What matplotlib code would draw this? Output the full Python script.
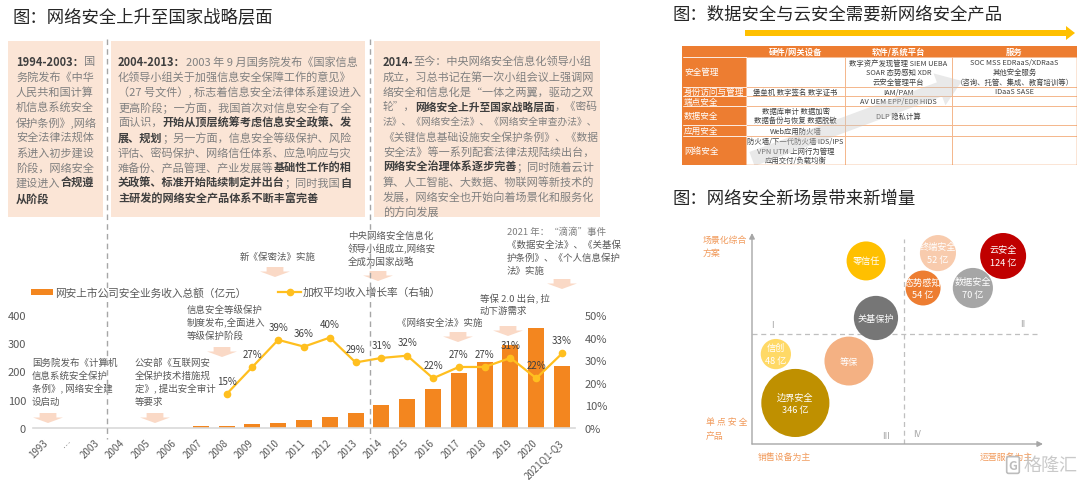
import matplotlib.pyplot as plt
import matplotlib.patches as mpatches
from matplotlib.lines import Line2D
from matplotlib.font_manager import FontProperties
import numpy as np

FAM = ['Noto Sans CJK SC', 'DejaVu Sans']
plt.rcParams['font.family'] = FAM

W, H = 1080, 481
def fx(px): return px / W
def fy(py): return 1 - py / H

# ── data: 网安上市公司安全业务收入 / 增长率 ─────────────────────────────
years = ['1993', '…', '2003'] + [str(y) for y in range(2004, 2021)] + ['2021Q1-Q3']
revenue = [np.nan] * 6 + [6, 8, 14, 19, 27, 38, 52, 81, 104, 138, 195, 232, 294, 353, 220]
growth = [np.nan] * 7 + [15, 27, 39, 36, 40, 29, 31, 32, 22, 27, 27, 31, 22, 33]

# ── data: 产品矩阵表 ─────────────────────────────────────────────────────
table_cols = ['硬件/网关设备', '软件/系统平台', '服务']
table_rows = ['安全管理', '身份访问与管理', '端点安全', '数据安全', '应用安全', '网络安全']
hardware = ['', '堡垒机 数字签名 数字证书', '', '数据库审计 数据加密\n数据备份与恢复 数据脱敏',
            'Web应用防火墙', '防火墙/下一代防火墙 IDS/IPS\nVPN UTM 上网行为管理\n应用交付/负载均衡']
software = ['数字资产发现管理 SIEM UEBA\nSOAR 态势感知 XDR\n云安全管理平台', 'IAM/PAM',
            'AV UEM EPP/EDR HIDS', 'DLP 隐私计算', '', '']
services = ['SOC MSS EDRaaS/XDRaaS\n其他安全服务\n（咨询、托管、集成、教育培训等）', 'IDaaS SASE',
            '', '', '', '']

# ── data: 新场景气泡 ─────────────────────────────────────────────────────
bubble_names = ['零信任', '关基保护', '终端安全', '云安全', '态势感知', '数据安全', '信创', '等保', '边界安全']
bubble_vals = ['', '', '52 亿', '124 亿', '54 亿', '70 亿', '48 亿', '', '346 亿']
bubble_x = [3.92, 4.26, 6.39, 8.63, 5.88, 7.59, 0.82, 3.33, 1.49]
bubble_y = [6.29, 4.33, 6.56, 6.46, 5.36, 5.36, 3.09, 2.85, 1.41]
bubble_r = [0.67, 0.76, 0.62, 0.79, 0.60, 0.69, 0.52, 0.84, 1.17]
bubble_c = ['#FFC000', '#767676', '#F8CBAD', '#C00000', '#ED7D31', '#A6A6A6', '#FFD966', '#F4B183', '#BF9000']

# ── colours ─────────────────────────────────────────────────────────────
TITLE = '#262626'
GRAY = '#808080'
DARK = '#3F3F3F'
NOTE = '#595959'
PEACH = '#FBE5D6'
PINK = '#FAD9C6'
ORANGE = '#F3861F'
GOLD = '#FFBF1F'
TBL_OR = '#ED7D31'
TBL_LINE = '#F4B183'
AXLAB = '#F19A5B'

fig = plt.figure(figsize=(W / 100, H / 100), dpi=100)
fig.patch.set_facecolor('white')
R = fig.canvas.get_renderer()


def poly(pts, color, z=1, alpha=1.0):
    fig.add_artist(mpatches.Polygon([(fx(a), fy(b)) for a, b in pts], closed=True,
                                    transform=fig.transFigure, facecolor=color,
                                    edgecolor='none', zorder=z, alpha=alpha))


def down_arrow(cx, ytop, w=30, h=10):
    s = w * 0.28
    m = ytop + h * 0.45
    poly([(cx - s, ytop), (cx + s, ytop), (cx + s, m), (cx + w / 2, m),
          (cx, ytop + h), (cx - w / 2, m), (cx - s, m)], PINK)


def adv(s, size, bold):
    prop = FontProperties(family=FAM, size=size, weight='bold' if bold else 'normal')
    w1 = R.get_text_width_height_descent(s + '国', prop, ismath=False)[0]
    w2 = R.get_text_width_height_descent('国', prop, ismath=False)[0]
    return w1 - w2


def rich(x0, y, line, size=8, maxw=None):
    parts = line.split('**')
    total = sum(adv(s, size, i % 2 == 1) for i, s in enumerate(parts) if s)
    if maxw and total > maxw:
        size = size * maxw / total
    x = x0
    for i, s in enumerate(parts):
        if not s:
            continue
        b = i % 2 == 1
        fig.text(fx(x), fy(y), s, fontsize=size, color=DARK if b else GRAY,
                 fontweight='bold' if b else 'normal', va='center', ha='left')
        x += adv(s, size, b)


def note(x, y0, lines, dy=13, size=6.8, color=NOTE):
    for k, s in enumerate(lines):
        fig.text(fx(x), fy(y0 + k * dy), s, fontsize=size, color=color, va='center', ha='left')


# ═════════════════ LEFT: 网络安全上升至国家战略层面 ═════════════════
fig.text(fx(12), fy(18), '图：网络安全上升至国家战略层面', fontsize=12.5, color=TITLE, va='center')

for x0, x1 in [(8, 103), (111, 365), (374, 600)]:
    fig.add_artist(mpatches.Rectangle((fx(x0), fy(218)), fx(x1) - fx(x0), (218 - 42) / H,
                                      transform=fig.transFigure, facecolor=PEACH,
                                      edgecolor='none', zorder=0))

box1 = ['**1994-2003：**国', '务院发布《中华', '人民共和国计算', '机信息系统安全',
        '保护条例》,网络', '安全法律法规体', '系进入初步建设', '阶段，网络安全',
        '建设进入**合规遵**', '**从阶段**']
box2 = ['**2004-2013：**2003 年 9 月国务院发布《国家信息',
        '化领导小组关于加强信息安全保障工作的意见》',
        '（27 号文件）, 标志着信息安全法律体系建设进入',
        '更高阶段；一方面，我国首次对信息安全有了全',
        '面认识，**开始从顶层统筹考虑信息安全政策、发**',
        '**展、规划**；另一方面，信息安全等级保护、风险',
        '评估、密码保护、网络信任体系、应急响应与灾',
        '难备份、产品管理、产业发展等**基础性工作的相**',
        '**关政策、标准开始陆续制定并出台**；同时我国**自**',
        '**主研发的网络安全产品体系不断丰富完善**']
box3 = ['**2014-**至今：中央网络安全信息化领导小组',
        '成立，习总书记在第一次小组会议上强调网',
        '络安全和信息化是“一体之两翼，驱动之双',
        '轮”，**网络安全上升至国家战略层面**，《密码',
        '法》、《网络安全法》、《网络安全审查办法》、',
        '《关键信息基础设施安全保护条例》、《数据',
        '安全法》等一系列配套法律法规陆续出台，',
        '**网络安全治理体系逐步完善**；同时随着云计',
        '算、人工智能、大数据、物联网等新技术的',
        '发展，网络安全也开始向着场景化和服务化',
        '的方向发展']
for k, s in enumerate(box1):
    rich(16, 62 + k * 15.2, s, maxw=86)
for k, s in enumerate(box2):
    rich(118, 62 + k * 15.2, s, maxw=244)
for k, s in enumerate(box3):
    rich(383, 62 + k * 15.0, s, maxw=215)

for xd in (107, 370):
    fig.add_artist(Line2D([fx(xd)] * 2, [fy(40), fy(440)], transform=fig.transFigure,
                          color='#A6A6A6', lw=1, ls=(0, (4, 3)), zorder=5))

# bar + line chart
ax = fig.add_axes([fx(33), fy(429), (575 - 33) / W, (429 - 316) / H])
ax.patch.set_alpha(0)
xi = np.arange(len(years))
ax.bar(xi, revenue, width=0.62, color=ORANGE, zorder=2)
ax.set_xlim(-0.5, len(years) - 0.5)
ax.set_ylim(0, 400)
ax.set_yticks([0, 100, 200, 300, 400])
ax.set_xticks(xi)
ax.set_xticklabels(years, rotation=45, ha='right', va='center', rotation_mode='anchor')
for s in ('top', 'right', 'left'):
    ax.spines[s].set_visible(False)
ax.spines['bottom'].set_color('#D9D9D9')
ax.spines['bottom'].set_linewidth(1.2)
ax.tick_params(length=0, labelsize=8, labelcolor=NOTE)
ax.tick_params(axis='x', labelsize=7, pad=9)
ax.tick_params(axis='y', pad=5)

ax2 = ax.twinx()
ax2.plot(xi, growth, color=GOLD, lw=1.6, marker='o', ms=4.5, zorder=3)
ax2.set_ylim(0, 50)
ax2.set_yticks(range(0, 51, 10))
ax2.set_yticklabels([f'{v}%' for v in range(0, 51, 10)])
for s in ax2.spines.values():
    s.set_visible(False)
ax2.tick_params(length=0, labelsize=8, labelcolor=NOTE, pad=7)
for i, g in enumerate(growth):
    if not np.isnan(g):
        ax2.annotate(f'{g}%', (i, g), xytext=(0, 9.5), textcoords='offset points',
                     ha='center', va='center', fontsize=7, color='#404040')

# legend
fig.add_artist(mpatches.Rectangle((fx(31), fy(296)), 22 / W, 6 / H, transform=fig.transFigure,
                                  facecolor=ORANGE, edgecolor='none'))
fig.text(fx(55), fy(293), '网安上市公司安全业务收入总额（亿元）', fontsize=7.7, color=NOTE, va='center')
fig.add_artist(Line2D([fx(278), fx(301)], [fy(293)] * 2, transform=fig.transFigure,
                      color=GOLD, lw=1.6))
fig.add_artist(Line2D([fx(289.5)], [fy(293)], transform=fig.transFigure,
                      color=GOLD, marker='o', ms=4.5))
fig.text(fx(303), fy(293), '加权平均收入增长率（右轴）', fontsize=7.7, color=NOTE, va='center')

# event notes
note(32, 363, ['国务院发布《计算机', '信息系统安全保护', '条例》, 网络安全建', '设启动'])
down_arrow(48, 414)
note(135, 363, ['公安部《互联网安', '全保护技术措施规', '定》, 提出安全审计', '等要求'])
down_arrow(155, 414)
note(187, 310, ['信息安全等级保护', '制度发布,全面进入', '等级保护阶段'])
down_arrow(222, 348)
note(240, 257, ['新《保密法》实施'])
down_arrow(275, 268)
note(348, 236, ['中央网络安全信息化', '领导小组成立,网络安', '全成为国家战略'])
down_arrow(378, 272)
note(397, 323, ['《网络安全法》实施'])
down_arrow(458, 333)
note(480, 299, ['等保 2.0 出台, 拉', '动下游需求'], dy=12.5)
down_arrow(508, 327)
note(507, 232, ['2021 年：“滴滴”事件'], color='#7F7F7F')
note(507, 245, ['《数据安全法》、《关基保', '护条例》、《个人信息保护', '法》实施'])
down_arrow(562, 280)

# ═════════════════ RIGHT TOP: 产品矩阵 ═════════════════
fig.text(fx(672), fy(15), '图：数据安全与云安全需要新网络安全产品', fontsize=12.5, color=TITLE, va='center')
poly([(745, 31), (1066, 31), (1066, 27), (1075, 34), (1066, 41), (1066, 37), (745, 37)], '#FFC000')

col_edges = [682, 746, 845, 952, 1077]
row_edges = [47, 58, 88, 97, 107, 126, 137, 166]
tax = fig.add_axes([fx(682), fy(166), (1077 - 682) / W, (166 - 47) / H])
tax.set_xlim(682, 1077)
tax.set_ylim(166, 47)
tax.axis('off')

tax.add_patch(mpatches.Rectangle((682, 47), 395, 11, facecolor=TBL_OR, edgecolor='none', zorder=1))
tax.add_patch(mpatches.Rectangle((682, 58), 64, 108, facecolor=TBL_OR, edgecolor='none', zorder=1))
for r in range(len(table_rows)):
    y0, y1 = row_edges[r + 1], row_edges[r + 2]
    for c in range(1, 4):
        tax.add_patch(mpatches.Rectangle((col_edges[c], y0), col_edges[c + 1] - col_edges[c], y1 - y0,
                                         facecolor='white', edgecolor=TBL_LINE, lw=0.6, zorder=1))
    tax.plot([682, 746], [y0, y0], color='white', lw=0.6, zorder=2)
tax.add_patch(mpatches.Rectangle((682, 47), 395, 119, facecolor='none', edgecolor=TBL_OR, lw=1, zorder=5))

for c, name in enumerate(table_cols):
    tax.text((col_edges[c + 1] + col_edges[c + 2]) / 2, 52.5, name, ha='center', va='center',
             fontsize=6, color='white', fontweight='bold', zorder=3)
cells = [hardware, software, services]
for r, name in enumerate(table_rows):
    yc = (row_edges[r + 1] + row_edges[r + 2]) / 2
    tax.text(684, yc, name, ha='left', va='center', fontsize=6.2, color='white', zorder=3)
    for c in range(3):
        if cells[c][r]:
            tax.text((col_edges[c + 1] + col_edges[c + 2]) / 2, yc, cells[c][r], ha='center',
                     va='center', fontsize=5.3, color='#404040', linespacing=1.25, zorder=3)

tax.add_patch(mpatches.FancyArrow(752, 160, 210, -78, width=15, head_width=34, head_length=24,
                                  length_includes_head=True, facecolor='#C8C8C8', edgecolor='none',
                                  alpha=0.4, zorder=4))

# ═════════════════ RIGHT BOTTOM: 气泡图 ═════════════════
fig.text(fx(672), fy(199), '图：网络安全新场景带来新增量', fontsize=12.5, color=TITLE, va='center')

bax = fig.add_axes([fx(752), fy(445), 291 / W, 211 / H])
bax.set_xlim(0, 10)
bax.set_ylim(0, 7.25)
bax.axis('off')
arr = dict(arrowstyle='-|>', color='#A6A6A6', lw=1, mutation_scale=8, shrinkA=0, shrinkB=0)
bax.annotate('', xy=(0, 1), xytext=(0, 0), xycoords='axes fraction', arrowprops=arr, annotation_clip=False)
bax.annotate('', xy=(1, 0), xytext=(0, 0), xycoords='axes fraction', arrowprops=arr, annotation_clip=False)
bax.plot([0, 9.83], [3.78, 3.78], color='#BFBFBF', lw=0.9, ls=(0, (4, 3)))
bax.plot([5.22, 5.22], [0, 7.04], color='#BFBFBF', lw=0.9, ls=(0, (4, 3)))

for name, val, bx, by, br, bc in zip(bubble_names, bubble_vals, bubble_x, bubble_y, bubble_r, bubble_c):
    bax.add_patch(mpatches.Circle((bx, by), br, facecolor=bc, edgecolor='none', zorder=2))
    label = name + ('\n' + val if val else '')
    bax.text(bx, by, label, ha='center', va='center', color='white', fontsize=6.6,
             linespacing=1.5, zorder=3)

for s, px, py in [('I', 772, 326), ('II', 1023, 325), ('III', 886, 437), ('IV', 917, 435)]:
    fig.text(fx(px), fy(py), s, fontsize=6.5, color='#A6A6A6', ha='center', va='center')

fig.text(fx(703), fy(240), '场景化综合', fontsize=6.4, color=AXLAB, va='center')
fig.text(fx(703), fy(253), '方案', fontsize=6.4, color=AXLAB, va='center')
fig.text(fx(706), fy(423), '单 点 安 全', fontsize=6.4, color=AXLAB, va='center')
fig.text(fx(706), fy(436), '产品', fontsize=6.4, color=AXLAB, va='center')
fig.text(fx(758), fy(457), '销售设备为主', fontsize=6.4, color=AXLAB, va='center')
fig.text(fx(980), fy(457), '运营服务为主', fontsize=6.4, color=AXLAB, va='center')

# watermark
fig.text(fx(1013), fy(466), 'G', fontsize=9, color='#BDBDBD', ha='center', va='center', fontweight='bold',
         bbox=dict(boxstyle='round,pad=0.15', facecolor='white', edgecolor='#BDBDBD', lw=1.2))
fig.text(fx(1024), fy(466), '格隆汇', fontsize=13, color='#C4C4C4', va='center', alpha=0.9)

fig.savefig('out.png', dpi=100, facecolor='white')
